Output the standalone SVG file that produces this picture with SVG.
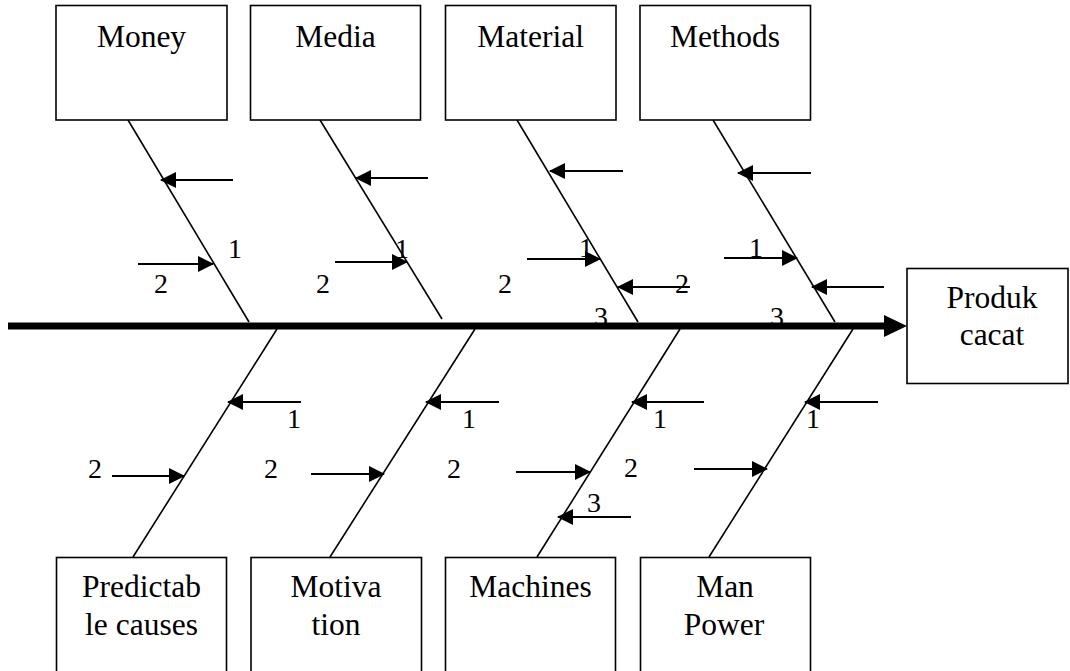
<svg xmlns="http://www.w3.org/2000/svg" width="1070" height="671" viewBox="0 0 1070 671">
<style>
.box{fill:#fff;stroke:#000;stroke-width:1.6}
.lbl{font-family:"Liberation Serif","Times New Roman",serif;font-size:31.5px;fill:#000;text-anchor:middle}
.num{font-family:"Liberation Serif","Times New Roman",serif;font-size:28px;fill:#000;text-anchor:middle}
.bone{stroke:#000;stroke-width:1.6;fill:none}
.cause{stroke:#000;stroke-width:2.2;fill:none;marker-end:url(#ah)}
</style>
<defs>
<marker id="ah" viewBox="0 0 16 16" refX="15" refY="8" markerWidth="16" markerHeight="16" markerUnits="userSpaceOnUse" orient="auto">
<path d="M0,0 L16,8 L0,16 z" fill="#000"/>
</marker>
<marker id="big" viewBox="0 0 23 22" refX="0" refY="11" markerWidth="23" markerHeight="22" markerUnits="userSpaceOnUse" orient="auto">
<path d="M0,0 L23,11 L0,22 z" fill="#000"/>
</marker>
</defs>
<rect width="1070" height="671" fill="#fff"/>

<g id="numbers">
<text class="num" x="235" y="258">1</text>
<text class="num" x="161" y="293">2</text>
<text class="num" x="402" y="258">1</text>
<text class="num" x="323" y="293">2</text>
<text class="num" x="586" y="257">1</text>
<text class="num" x="505" y="293">2</text>
<text class="num" x="682" y="293">2</text>
<text class="num" x="601" y="326">3</text>
<text class="num" x="756" y="257">1</text>
<text class="num" x="777" y="326">3</text>
<text class="num" x="294" y="428">1</text>
<text class="num" x="95" y="478">2</text>
<text class="num" x="469" y="428">1</text>
<text class="num" x="271" y="478">2</text>
<text class="num" x="660" y="428">1</text>
<text class="num" x="454" y="478">2</text>
<text class="num" x="631" y="477">2</text>
<text class="num" x="594" y="512">3</text>
<text class="num" x="813" y="428">1</text>
</g>

<g id="connectors">
<line x1="8" y1="326" x2="884" y2="326" stroke="#000" stroke-width="7" marker-end="url(#big)"/>
<line class="bone" x1="128" y1="120" x2="249" y2="322"/>
<line class="bone" x1="320" y1="120" x2="442" y2="319"/>
<line class="bone" x1="517" y1="120" x2="638" y2="322"/>
<line class="bone" x1="713" y1="120" x2="835" y2="322"/>
<line class="bone" x1="277" y1="329" x2="133" y2="557"/>
<line class="bone" x1="475" y1="329" x2="330" y2="557"/>
<line class="bone" x1="680" y1="329" x2="537" y2="557"/>
<line class="bone" x1="853" y1="329" x2="709" y2="557"/>

<line class="cause" x1="233" y1="180" x2="161" y2="180"/>
<line class="cause" x1="138" y1="264" x2="213" y2="264"/>
<line class="cause" x1="428" y1="178" x2="356" y2="178"/>
<line class="cause" x1="335" y1="262" x2="407" y2="262"/>
<line class="cause" x1="623" y1="171" x2="550" y2="171"/>
<line class="cause" x1="527" y1="259" x2="600" y2="259"/>
<line class="cause" x1="690" y1="287" x2="618" y2="287"/>
<line class="cause" x1="811" y1="173" x2="738" y2="173"/>
<line class="cause" x1="724" y1="258" x2="797" y2="258"/>
<line class="cause" x1="884" y1="287" x2="812" y2="287"/>

<line class="cause" x1="301" y1="402" x2="228" y2="402"/>
<line class="cause" x1="112" y1="476" x2="184" y2="476"/>
<line class="cause" x1="499" y1="402" x2="426" y2="402"/>
<line class="cause" x1="311" y1="474" x2="384" y2="474"/>
<line class="cause" x1="704" y1="402" x2="632" y2="402"/>
<line class="cause" x1="516" y1="472" x2="590" y2="472"/>
<line class="cause" x1="631" y1="517" x2="558" y2="517"/>
<line class="cause" x1="878" y1="402" x2="805" y2="402"/>
<line class="cause" x1="694" y1="469" x2="767" y2="469"/>
</g>

<g id="money"><rect class="box" x="56" y="5.5" width="171" height="114.5"/><text class="lbl" x="141.5" y="47">Money</text></g>
<g id="media"><rect class="box" x="250.5" y="5.5" width="170" height="114.5"/><text class="lbl" x="335.5" y="47">Media</text></g>
<g id="material"><rect class="box" x="445.5" y="5.5" width="170.5" height="114.5"/><text class="lbl" x="530.7" y="47">Material</text></g>
<g id="methods"><rect class="box" x="640" y="5.5" width="170.5" height="114.5"/><text class="lbl" x="725" y="47">Methods</text></g>

<g id="predictable"><rect class="box" x="56.5" y="557.5" width="170" height="130"/><text class="lbl" x="141.5" y="597">Predictab</text><text class="lbl" x="141.5" y="635">le causes</text></g>
<g id="motivation"><rect class="box" x="251" y="557.5" width="170.5" height="130"/><text class="lbl" x="336" y="597">Motiva</text><text class="lbl" x="336" y="635">tion</text></g>
<g id="machines"><rect class="box" x="445.5" y="557.5" width="170" height="130"/><text class="lbl" x="530.5" y="597">Machines</text></g>
<g id="manpower"><rect class="box" x="640.5" y="557.5" width="170" height="130"/><text class="lbl" x="725" y="597">Man</text><text class="lbl" x="724" y="635">Power</text></g>

<g id="produk"><rect class="box" x="907" y="268.5" width="161" height="115"/><text class="lbl" x="992" y="308">Produk</text><text class="lbl" x="992" y="345">cacat</text></g>
</svg>
